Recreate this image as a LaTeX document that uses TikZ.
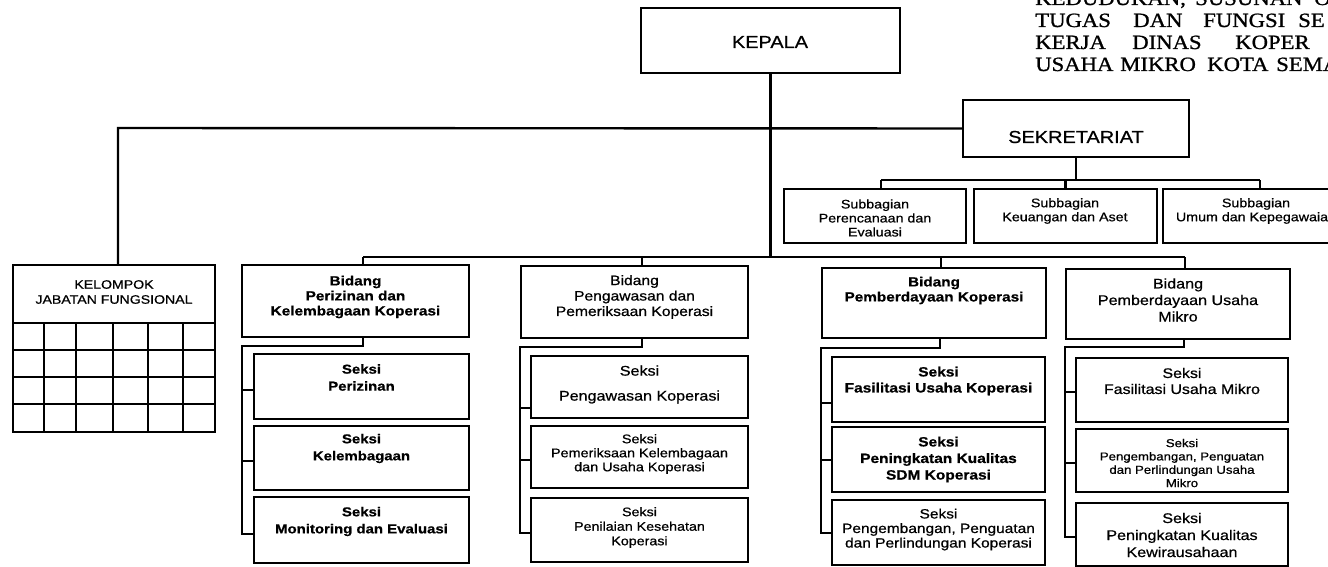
\documentclass[tikz,border=0pt]{standalone}
\usepackage{fontspec}
\setmainfont[FakeStretch=1.15,FakeBold=0.7]{Liberation Sans}
\newfontfamily\titlefont[FakeStretch=1.12,FakeBold=1.0]{Liberation Serif}
\usetikzlibrary{fit}
\newcommand\fsz[2]{\fontsize{#1}{#2}\selectfont}
\begin{document}
\begin{tikzpicture}[x=0.75pt,y=-0.75pt,
  box/.style={draw, line width=1.8pt, inner sep=0pt},
  ln/.style={line width=1.8pt},
  txt/.style={align=center, inner sep=0pt},
  ttl/.style={anchor=base west, inner sep=0pt, font={\titlefont\fsz{15.2}{18}}}]
\newcommand\bx[5]{\node[box, fit={(#2,#3) (#4,#5)}] (#1) {};}
\useasboundingbox (0,0) rectangle (1328,567);
\clip (0,0) rectangle (1328,567);
\fill[white] (0,0) rectangle (1328,567);

% title (cut by the page edge, as in the original)
\node[ttl] (w11) at (1035,5) {KEDUDUKAN,};
\node[ttl] (w12) at (1195,5) {SUSUNAN};
\node[ttl] (w13) at (1314,5) {O};
\node[ttl] (w21) at (1035,27) {TUGAS};
\node[ttl] (w22) at (1133,27) {DAN};
\node[ttl] (w23) at (1203,27) {FUNGSI};
\node[ttl] (w24) at (1298,27) {SE};
\node[ttl] (w31) at (1035,49) {KERJA};
\node[ttl] (w32) at (1132,49) {DINAS};
\node[ttl] (w33) at (1235,49) {KOPER};
\node[ttl] (w41) at (1035,71) {USAHA};
\node[ttl] (w42) at (1120,71) {MIKRO};
\node[ttl] (w43) at (1207,71) {KOTA};
\node[ttl] (w44) at (1276,71) {SEMA};

% boxes
\bx{kepala}{641}{8}{900}{73}
\bx{sek}{963}{100}{1189}{157}
\bx{sub1}{784}{189}{966}{243}
\bx{sub2}{974}{189}{1157}{243}
\bx{sub3}{1163}{189}{1360}{243}
\bx{kel}{13}{265}{215}{432}
\bx{bid1}{242}{265}{469}{337}
\bx{bid2}{521}{266}{748}{338}
\bx{bid3}{822}{268}{1046}{338}
\bx{bid4}{1066}{269}{1290}{339}
\bx{sk11}{254}{354}{469}{419}
\bx{sk12}{254}{426}{469}{490}
\bx{sk13}{254}{497}{469}{563}
\bx{sk21}{531}{356}{748}{418}
\bx{sk22}{531}{426}{748}{488}
\bx{sk23}{531}{498}{748}{562}
\bx{sk31}{832}{357}{1045}{422}
\bx{sk32}{832}{427}{1045}{492}
\bx{sk33}{832}{500}{1045}{565}
\bx{sk41}{1076}{358}{1288}{422}
\bx{sk42}{1076}{429}{1288}{492}
\bx{sk43}{1076}{503}{1288}{566}

% grid of the functional group
\foreach \yy in {323,350,377,404} \draw[ln] (13,\yy) -- (215,\yy);
\foreach \xx in {44,76,113,148,183} \draw[ln] (\xx,323) -- (\xx,432);

% texts
\node[txt, font={\fsz{13}{15}}] (tkepala) at (770,42) {KEPALA};
\node[txt, font={\fsz{13}{15}}] (tsek) at (1076,137) {SEKRETARIAT};
\node[txt, font={\fsz{9.3}{10.5}}] (tsub1) at (875,218) {Subbagian\\Perencanaan dan\\Evaluasi};
\node[txt, font={\fsz{9.3}{10.5}}] (tsub2) at (1065,211) {Subbagian\\Keuangan dan Aset};
\node[txt, font={\fsz{9.3}{10.5}}] (tsub3) at (1256,211) {Subbagian\\Umum dan Kepegawaian};
\node[txt, font={\fsz{9.2}{11.25}}] (tkel) at (114,292) {KELOMPOK\\JABATAN FUNGSIONAL};

\node[txt, font={\fsz{10}{11.25}\bfseries}] (tbid1) at (355.5,297) {Bidang\\Perizinan dan\\Kelembagaan Koperasi};
\node[txt, font={\fsz{10.2}{11.6}}] (tbid2) at (634.5,297) {Bidang\\Pengawasan dan\\Pemeriksaan Koperasi};
\node[txt, font={\fsz{10}{11.25}\bfseries}] (tbid3) at (934,290.5) {Bidang\\Pemberdayaan Koperasi};
\node[txt, font={\fsz{10.5}{12.4}}] (tbid4) at (1178,300) {Bidang\\Pemberdayaan Usaha\\Mikro};

\node[txt, font={\fsz{9.75}{12.75}\bfseries}] (tsk11) at (361.5,377.5) {Seksi\\Perizinan};
\node[txt, font={\fsz{9.75}{12.75}\bfseries}] (tsk12) at (361.5,448.5) {Seksi\\Kelembagaan};
\node[txt, font={\fsz{9.75}{12.75}\bfseries}] (tsk13) at (361.5,521.5) {Seksi\\Monitoring dan Evaluasi};

\node[txt, font={\fsz{10.5}{18.75}}] (tsk21) at (639.5,384.5) {Seksi\\Pengawasan Koperasi};
\node[txt, font={\fsz{9.4}{10.5}}] (tsk22) at (639.5,454) {Seksi\\Pemeriksaan Kelembagaan\\dan Usaha Koperasi};
\node[txt, font={\fsz{9.3}{10.9}}] (tsk23) at (639.5,527.5) {Seksi\\Penilaian Kesehatan\\Koperasi};

\node[txt, font={\fsz{10.1}{12}\bfseries}] (tsk31) at (938.5,381) {Seksi\\Fasilitasi Usaha Koperasi};
\node[txt, font={\fsz{10.1}{12.4}\bfseries}] (tsk32) at (938.5,459.5) {Seksi\\Peningkatan Kualitas\\SDM Koperasi};
\node[txt, font={\fsz{10.1}{10.9}}] (tsk33) at (938.5,529.5) {Seksi\\Pengembangan, Penguatan\\dan Perlindungan Koperasi};

\node[txt, font={\fsz{10.4}{12}}] (tsk41) at (1182,381) {Seksi\\Fasilitasi Usaha Mikro};
\node[txt, font={\fsz{8.6}{10}}] (tsk42) at (1182,463) {Seksi\\Pengembangan, Penguatan\\dan Perlindungan Usaha\\Mikro};
\node[txt, font={\fsz{10.5}{12.75}}] (tsk43) at (1182,535) {Seksi\\Peningkatan Kualitas\\Kewirausahaan};

% connector points
\coordinate (kl) at (118,128);
\coordinate (s1) at (881,180);
\coordinate (s3) at (1260,180);
\coordinate (bL) at (363,257);
\coordinate (d2) at (642,257);
\coordinate (d3) at (941,257);
\coordinate (bR) at (1185,257);
\coordinate (c1) at (363,346);  \coordinate (v1) at (242,346);
\coordinate (t11) at (242,390); \coordinate (t12) at (242,461); \coordinate (t13) at (242,534);
\coordinate (c2) at (642,347);  \coordinate (v2) at (520,347);
\coordinate (t21) at (520,408); \coordinate (t22) at (520,460); \coordinate (t23) at (520,533);
\coordinate (c3) at (940,348);  \coordinate (v3) at (821,348);
\coordinate (t31) at (821,403); \coordinate (t32) at (821,460); \coordinate (t33) at (821,533);
\coordinate (c4) at (1184,347); \coordinate (v4) at (1065,347);
\coordinate (t41) at (1065,392); \coordinate (t42) at (1065,463); \coordinate (t43) at (1065,537);

% connectors
\draw[ln] (kepala.south) -- (kepala.south |- bL);
\draw[ln] (sek.west) -- (kl) -- (kl |- kel.north);
\draw[ln] (sek.south) -- (sek.south |- s1);
\draw[ln] (s1) -- (s3);
\draw[ln] (s1) -- (s1 |- sub1.north);
\draw[ln] (sub2.north |- s1) -- (sub2.north);
\draw[ln] (s3) -- (s3 |- sub3.north);
\draw[ln] (bL) -- (bR);
\draw[ln] (bL) -- (bL |- bid1.north);
\draw[ln] (d2) -- (d2 |- bid2.north);
\draw[ln] (d3) -- (d3 |- bid3.north);
\draw[ln] (bR) -- (bR |- bid4.north);

\draw[ln] (c1 |- bid1.south) -- (c1) -- (v1) -- (t13) -- (t13 -| sk13.west);
\draw[ln] (t11) -- (t11 -| sk11.west);
\draw[ln] (t12) -- (t12 -| sk12.west);
\draw[ln] (c2 |- bid2.south) -- (c2) -- (v2) -- (t23) -- (t23 -| sk23.west);
\draw[ln] (t21) -- (t21 -| sk21.west);
\draw[ln] (t22) -- (t22 -| sk22.west);
\draw[ln] (c3 |- bid3.south) -- (c3) -- (v3) -- (t33) -- (t33 -| sk33.west);
\draw[ln] (t31) -- (t31 -| sk31.west);
\draw[ln] (t32) -- (t32 -| sk32.west);
\draw[ln] (c4 |- bid4.south) -- (c4) -- (v4) -- (t43) -- (t43 -| sk43.west);
\draw[ln] (t41) -- (t41 -| sk41.west);
\draw[ln] (t42) -- (t42 -| sk42.west);
\end{tikzpicture}
\end{document}
